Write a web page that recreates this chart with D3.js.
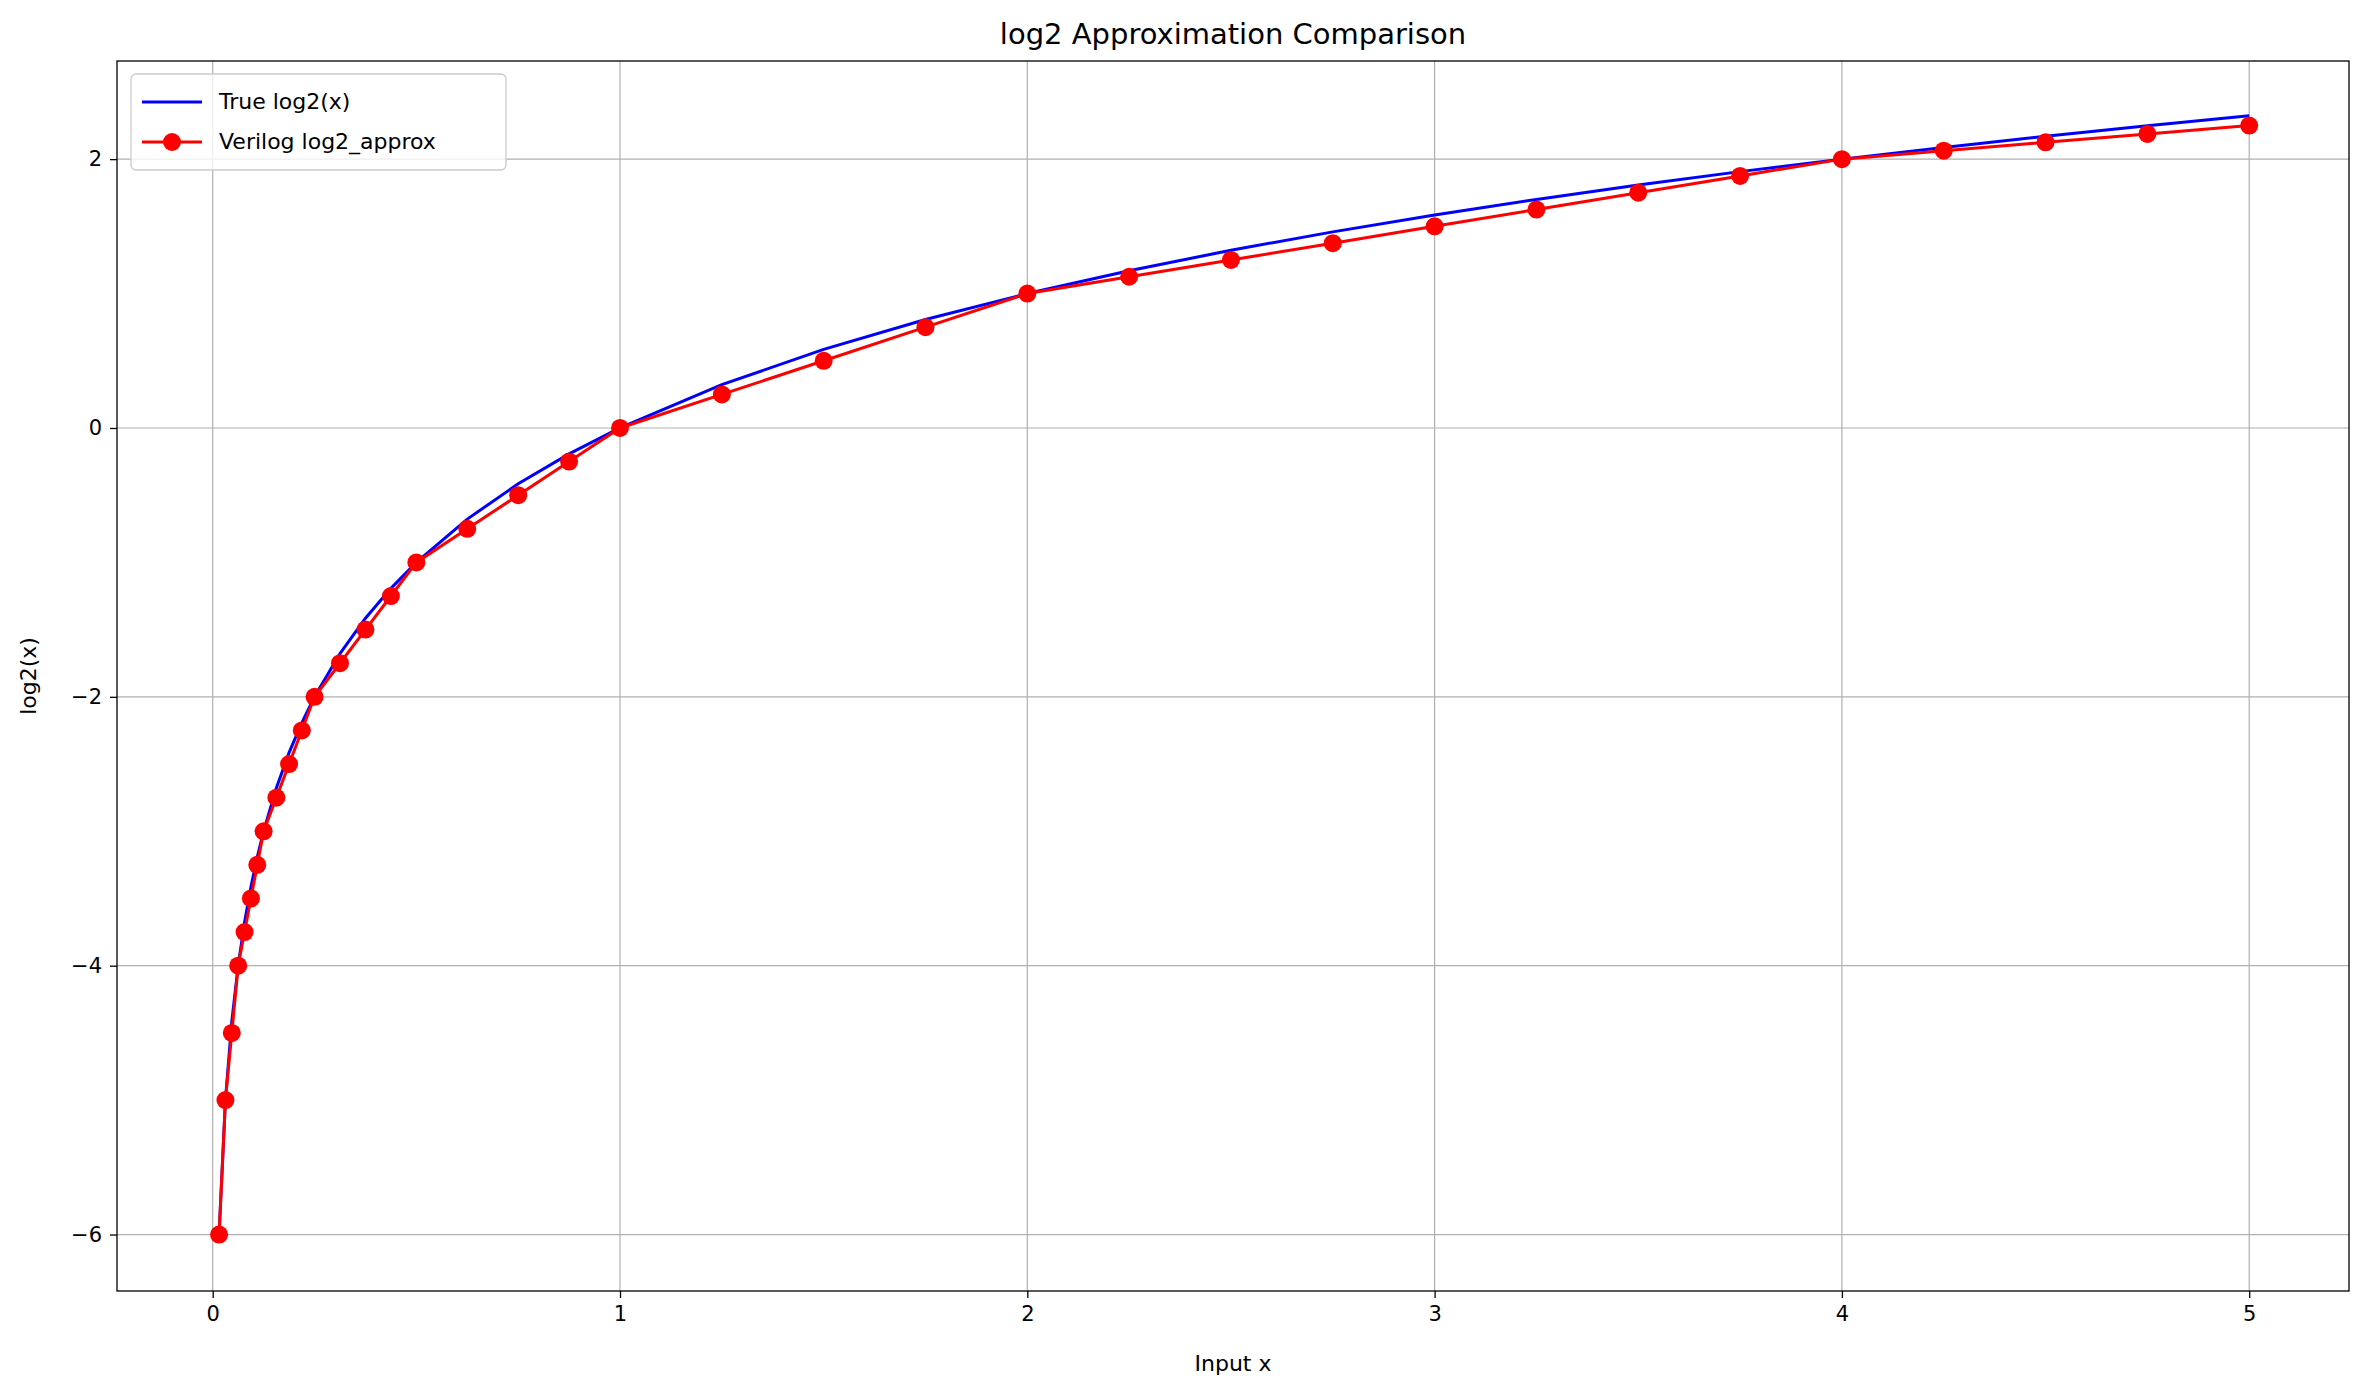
<!DOCTYPE html>
<html><head><meta charset="utf-8">
<script src="https://cdn.jsdelivr.net/npm/d3@7"></script>
<style>body{margin:0;background:#fff}text{font-family:"DejaVu Sans",sans-serif}</style>
</head><body><svg id="chart" width="2378" height="1384"></svg>
<script>
var xVals = [0.015625,0.03125,0.046875,0.0625,0.078125,0.09375,0.109375,0.125,0.15625,0.1875,0.21875,0.25,0.3125,0.375,0.4375,0.5,0.625,0.75,0.875,1,1.25,1.5,1.75,2,2.25,2.5,2.75,3,3.25,3.5,3.75,4,4.25,4.5,4.75,5];
var trueLog = [-6,-5,-4.415,-4,-3.678,-3.415,-3.193,-3,-2.678,-2.415,-2.193,-2,-1.678,-1.415,-1.193,-1,-0.678,-0.415,-0.193,0,0.322,0.585,0.807,1,1.170,1.322,1.459,1.585,1.700,1.807,1.907,2,2.087,2.170,2.248,2.322];
var approxLog = [-6,-5,-4.5,-4,-3.75,-3.5,-3.25,-3,-2.75,-2.5,-2.25,-2,-1.75,-1.5,-1.25,-1,-0.75,-0.5,-0.25,0,0.25,0.5,0.75,1,1.125,1.25,1.375,1.5,1.625,1.75,1.875,2,2.0625,2.125,2.1875,2.25];
var xTicks = [0,1,2,3,4,5];
var yTicks = [-6,-4,-2,0,2];

var L = 117, R = 2349, T = 61, B = 1291;
var svg = d3.select("#chart");
var x = d3.scaleLinear().domain([-0.235, 5.245]).range([L, R]);
var y = d3.scaleLinear().domain([-6.42, 2.73]).range([B, T]);

// grid
svg.append("g").selectAll("line").data(xTicks).join("line")
  .attr("x1", d => x(d)).attr("x2", d => x(d)).attr("y1", T).attr("y2", B)
  .attr("stroke", "#b0b0b0").attr("stroke-width", 1.2);
svg.append("g").selectAll("line").data(yTicks).join("line")
  .attr("y1", d => y(d)).attr("y2", d => y(d)).attr("x1", L).attr("x2", R)
  .attr("stroke", "#b0b0b0").attr("stroke-width", 1.2);

var xAxis = svg.append("g").attr("transform", "translate(0," + B + ")")
  .call(d3.axisBottom(x).tickValues(xTicks).tickSize(7).tickPadding(8).tickFormat(d3.format("d")));
var yAxis = svg.append("g").attr("transform", "translate(" + L + ",0)")
  .call(d3.axisLeft(y).tickValues(yTicks).tickSize(7).tickPadding(8).tickFormat(d => d < 0 ? "\u2212" + Math.abs(d) : d));
[xAxis, yAxis].forEach(function(a){
  a.selectAll("text").attr("font-size", 21).attr("fill", "#000");
  a.selectAll("line").attr("stroke-width", 1.3);
  a.select(".domain").remove();
});
svg.append("rect").attr("x", L).attr("y", T).attr("width", R - L).attr("height", B - T)
  .attr("fill", "none").attr("stroke", "#000").attr("stroke-width", 1.3);

var line = d3.line().x(d => x(d[0])).y(d => y(d[1]));
svg.append("path").datum(xVals.map((v, i) => [v, trueLog[i]]))
  .attr("d", line).attr("fill", "none").attr("stroke", "blue").attr("stroke-width", 3);
var approxPts = xVals.map((v, i) => [v, approxLog[i]]);
svg.append("path").datum(approxPts)
  .attr("d", line).attr("fill", "none").attr("stroke", "red").attr("stroke-width", 3);
svg.append("g").selectAll("circle").data(approxPts).join("circle")
  .attr("cx", d => x(d[0])).attr("cy", d => y(d[1])).attr("r", 9).attr("fill", "red");

svg.append("text").attr("x", (L + R) / 2).attr("y", T - 17).attr("text-anchor", "middle")
  .attr("font-size", 29).text("log2 Approximation Comparison");
svg.append("text").attr("x", (L + R) / 2).attr("y", 1371).attr("text-anchor", "middle")
  .attr("font-size", 22).text("Input x");
svg.append("text").attr("transform", "translate(36," + ((T + B) / 2) + ") rotate(-90)")
  .attr("text-anchor", "middle").attr("font-size", 22).text("log2(x)");

// legend
var lg = svg.append("g").attr("transform", "translate(131,74)");
lg.append("rect").attr("width", 375).attr("height", 96).attr("rx", 5)
  .attr("fill", "#fff").attr("fill-opacity", 0.8).attr("stroke", "#ccc").attr("stroke-width", 1.3);
var items = [["True log2(x)", "blue", false], ["Verilog log2_approx", "red", true]];
items.forEach(function(it, i){
  var cy = 28 + i * 40;
  lg.append("line").attr("x1", 11).attr("x2", 71).attr("y1", cy).attr("y2", cy)
    .attr("stroke", it[1]).attr("stroke-width", 3);
  if (it[2]) lg.append("circle").attr("cx", 41).attr("cy", cy).attr("r", 9).attr("fill", it[1]);
  lg.append("text").attr("x", 88).attr("y", cy + 7).attr("font-size", 22).text(it[0]);
});
</script></body></html>
